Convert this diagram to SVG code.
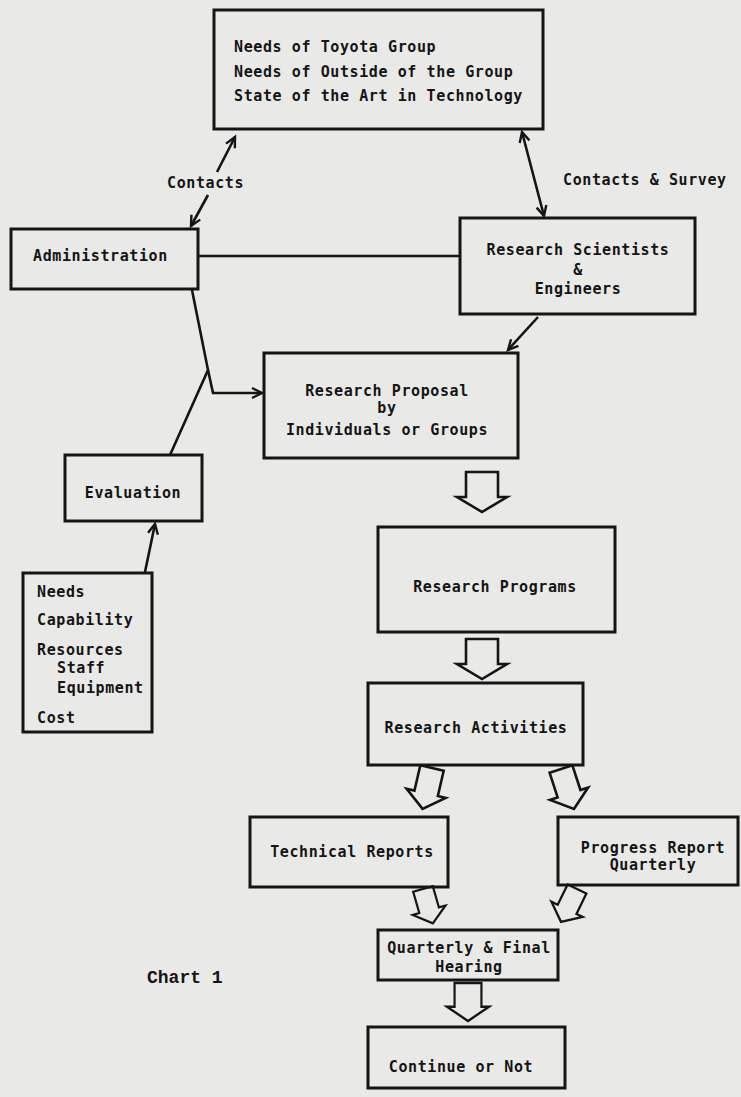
<svg xmlns="http://www.w3.org/2000/svg" width="741" height="1097" viewBox="0 0 741 1097">
<style>
.box{fill:none;stroke:#151515;stroke-width:3}
.t{font-family:"DejaVu Sans Mono","Liberation Mono",monospace;font-weight:bold;font-size:15px;letter-spacing:0.6px;fill:#151515}
.c{text-anchor:middle}
.ln{fill:none;stroke:#151515;stroke-width:2.6}
.ha{fill:none;stroke:#151515;stroke-width:2.6;stroke-linejoin:miter}
</style>
<defs>
<marker id="ah" markerUnits="userSpaceOnUse" markerWidth="14" markerHeight="14" refX="11" refY="6" orient="auto-start-reverse" viewBox="0 0 14 12">
<path d="M1,1 L11,6 L1,11" fill="none" stroke="#151515" stroke-width="2.4"/>
</marker>
<path id="hv" d="M-16,0 H16 V25 H25 L0,40 L-25,25 H-16 Z"/>
<path id="hd" d="M-12,0 H12 V26 H20 L0,42 L-20,26 H-12 Z"/>
</defs>
<rect x="0" y="0" width="741" height="1097" fill="#e9e9e7"/>

<g id="connectors">
<line class="ln" x1="217" y1="172" x2="235" y2="137" marker-end="url(#ah)"/>
<line class="ln" x1="208" y1="195" x2="191" y2="226" marker-end="url(#ah)"/>
<line class="ln" x1="522" y1="132" x2="544" y2="216" marker-start="url(#ah)" marker-end="url(#ah)"/>
<line class="ln" x1="198" y1="256" x2="460" y2="256"/>
<line class="ln" x1="538" y1="317" x2="508" y2="350" marker-end="url(#ah)"/>
<polyline class="ln" points="192,290 208,370 170,455"/>
<polyline class="ln" points="208,370 213,393 262,393" marker-end="url(#ah)"/>
<line class="ln" x1="145" y1="572" x2="155" y2="524" marker-end="url(#ah)"/>
<use href="#hv" class="ha" transform="translate(482,472)"/>
<use href="#hv" class="ha" transform="translate(482,639)"/>
<use href="#hd" class="ha" transform="translate(432,768) rotate(13)"/>
<use href="#hd" class="ha" transform="translate(561,769) rotate(-18)"/>
<use href="#hd" class="ha" transform="translate(423,889) rotate(-16) scale(0.85)"/>
<use href="#hd" class="ha" transform="translate(577,889) rotate(26) scale(0.87)"/>
<use href="#hv" class="ha" transform="translate(468,983) scale(0.84,0.95)"/>
<text class="t" x="167" y="188">Contacts</text>
<text class="t" x="563" y="185">Contacts &amp; Survey</text>
</g>

<g id="needs">
<rect class="box" x="214" y="10" width="329" height="119"/>
<text class="t" x="234" y="52">Needs of Toyota Group</text>
<text class="t" x="234" y="77">Needs of Outside of the Group</text>
<text class="t" x="234" y="101">State of the Art in Technology</text>
</g>

<g id="administration">
<rect class="box" x="11" y="229" width="187" height="60"/>
<text class="t" x="33" y="261">Administration</text>
</g>

<g id="scientists">
<rect class="box" x="460" y="218" width="235" height="96"/>
<text class="t c" x="578" y="255">Research Scientists</text>
<text class="t c" x="578" y="275">&amp;</text>
<text class="t c" x="578" y="294">Engineers</text>
</g>

<g id="proposal">
<rect class="box" x="264" y="353" width="254" height="105"/>
<text class="t c" x="387" y="396">Research Proposal</text>
<text class="t c" x="387" y="413">by</text>
<text class="t c" x="387" y="435">Individuals or Groups</text>
</g>

<g id="evaluation">
<rect class="box" x="65" y="455" width="137" height="66"/>
<text class="t c" x="133" y="498">Evaluation</text>
</g>

<g id="criteria">
<rect class="box" x="23" y="573" width="129" height="159"/>
<text class="t" x="37" y="597">Needs</text>
<text class="t" x="37" y="625">Capability</text>
<text class="t" x="37" y="655">Resources</text>
<text class="t" x="57" y="673">Staff</text>
<text class="t" x="57" y="693">Equipment</text>
<text class="t" x="37" y="723">Cost</text>
</g>

<g id="programs">
<rect class="box" x="378" y="527" width="237" height="105"/>
<text class="t c" x="495" y="592">Research Programs</text>
</g>

<g id="activities">
<rect class="box" x="368" y="683" width="215" height="82"/>
<text class="t c" x="476" y="733">Research Activities</text>
</g>

<g id="technical">
<rect class="box" x="250" y="817" width="198" height="70"/>
<text class="t c" x="352" y="857">Technical Reports</text>
</g>

<g id="progress">
<rect class="box" x="558" y="817" width="180" height="68"/>
<text class="t c" x="653" y="853">Progress Report</text>
<text class="t c" x="653" y="870">Quarterly</text>
</g>

<g id="hearing">
<rect class="box" x="378" y="930" width="180" height="50"/>
<text class="t c" x="469" y="953">Quarterly &amp; Final</text>
<text class="t c" x="469" y="972">Hearing</text>
</g>

<g id="continue">
<rect class="box" x="368" y="1027" width="197" height="61"/>
<text class="t c" x="461" y="1072">Continue or Not</text>
</g>

<g id="caption">
<text x="147" y="983" style="font-family:'Liberation Mono',monospace;font-weight:bold;font-size:18px;fill:#151515">Chart 1</text>
</g>
</svg>
